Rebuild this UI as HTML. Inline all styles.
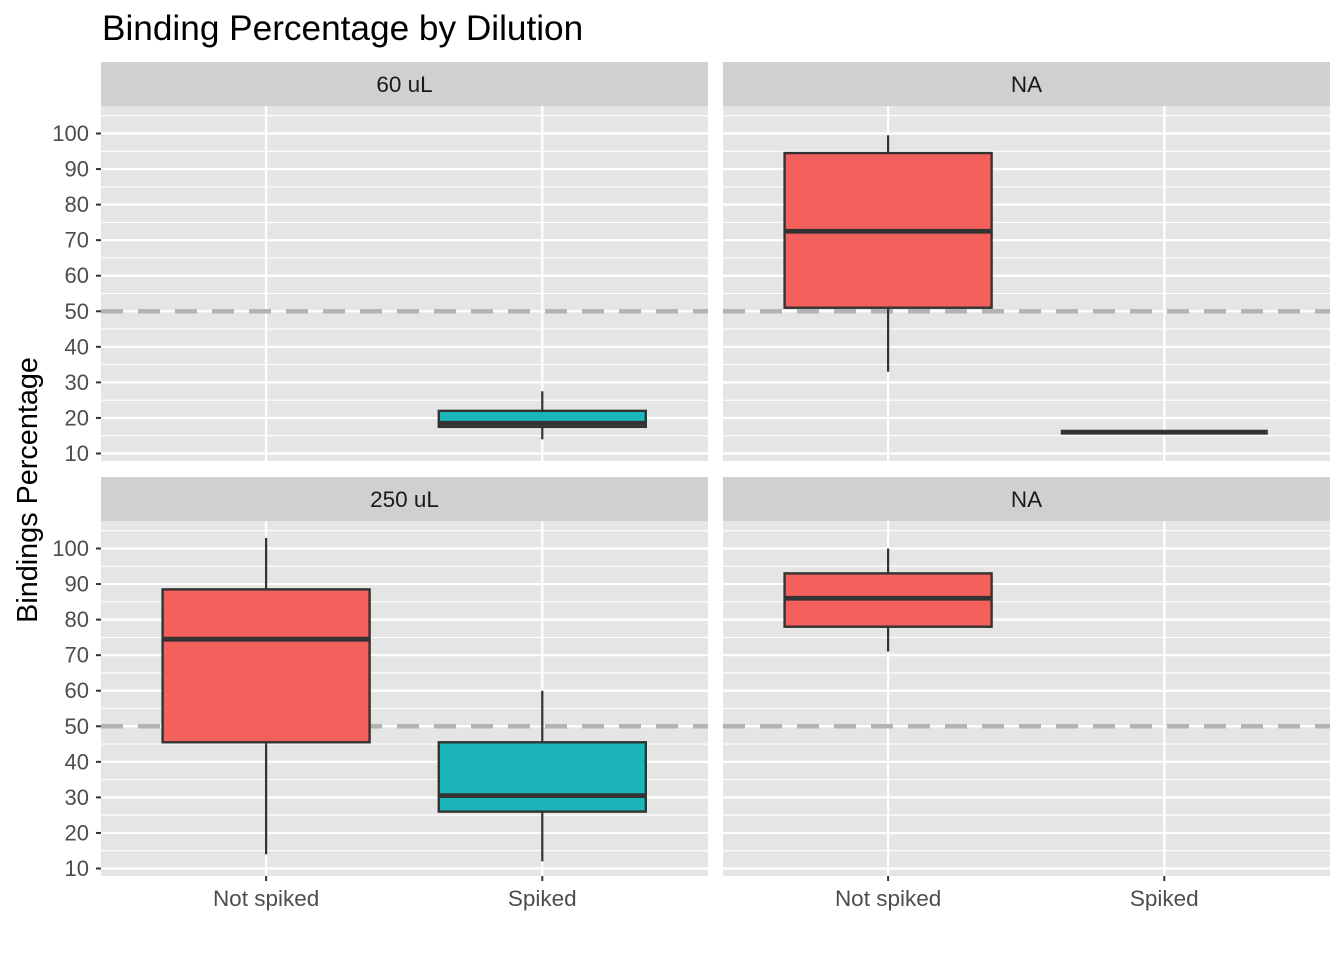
<!DOCTYPE html>
<html><head><meta charset="utf-8"><style>
html,body{margin:0;padding:0;background:#fff}
svg text{font-family:"Liberation Sans",Arial,sans-serif}
</style></head><body>
<svg id="chart" width="1344" height="960" xmlns="http://www.w3.org/2000/svg">
<text x="102" y="40" font-size="35.2" fill="#000">Binding Percentage by Dilution</text>
<text transform="translate(37,490) rotate(-90)" text-anchor="middle" font-size="28.8" fill="#000">Bindings Percentage</text>
<g id="panels"></g>
</svg>
<script>
const panelTitles = ["60 uL","NA","250 uL","NA"];
const categories = ["Not spiked","Spiked"];
const yTicks = [10,20,30,40,50,60,70,80,90,100];
const refLine = 50;
// per panel: [category index, lowWhisker, q1, median, q3, highWhisker]
const boxes60 = [[1,14,17.5,18.5,22,27.5]];
const boxesNAtop = [[0,33,51,72.5,94.5,99.5],[1,16,16,16,16,16]];
const boxes250 = [[0,14,45.5,74.5,88.5,103],[1,12,26,30.5,45.5,60]];
const boxesNAbot = [[0,71,78,86,93,100]];
const panelBoxes = [boxes60, boxesNAtop, boxes250, boxesNAbot];
const fills = ["#F4605C","#1BB5BA"];

const NS="http://www.w3.org/2000/svg";
const root=document.getElementById('panels');
function mk(tag,attrs,parent){const e=document.createElementNS(NS,tag);for(const k in attrs)e.setAttribute(k,attrs[k]);(parent||root).appendChild(e);return e;}
const cols=[[101,708],[723,1330]];
const rows=[[62,106,461],[477,521,876]];
for(let p=0;p<4;p++){
  const c=cols[p%2], r=rows[Math.floor(p/2)];
  const g=mk('g',{});
  
  
  const y=v=>r[1]+27.5+(100-v)*3.5556;
  const xc=i=>c[0]+ (c[1]-c[0])*(i===0?0.272:0.727);
  const strip=mk('rect',{x:c[0],y:r[0],width:c[1]-c[0],height:r[1]-r[0],fill:'#D0D0D0'},g);
  
  
  const st=mk('text',{x:(c[0]+c[1])/2,y:r[0]+30,'text-anchor':'middle','font-size':'22.5',fill:'#1a1a1a'},g);
  st.textContent=panelTitles[p];
  
  
  const bg=mk('rect',{x:c[0],y:r[1],width:c[1]-c[0],height:r[2]-r[1],fill:'#E5E5E5'},g);
  
  
  for(let v=5;v<=105;v+=10){mk('line',{x1:c[0],x2:c[1],y1:y(v),y2:y(v),stroke:'#fff','stroke-width':1.1},g);}
  yTicks.forEach(v=>{mk('line',{x1:c[0],x2:c[1],y1:y(v),y2:y(v),stroke:'#fff','stroke-width':2.2},g);});
  categories.forEach((n,i)=>{mk('line',{x1:xc(i),x2:xc(i),y1:r[1],y2:r[2],stroke:'#fff','stroke-width':2.2},g);});
  const rl=mk('line',{x1:c[0],x2:c[1],y1:y(refLine),y2:y(refLine),stroke:'#B3B3B3','stroke-width':4.5,'stroke-dasharray':'22 15'},g);
  
  
  const hw=103.5;
  panelBoxes[p].forEach(b=>{
    const cx=xc(b[0]);
    const bx=mk('g',{},g);
    
    
    mk('line',{x1:cx,x2:cx,y1:y(b[1]),y2:y(b[5]),stroke:'#333','stroke-width':2.2},bx);
    mk('rect',{x:cx-hw,y:y(b[4]),width:2*hw,height:y(b[2])-y(b[4]),fill:fills[b[0]],stroke:'#333','stroke-width':2.4},bx);
    mk('line',{x1:cx-hw,x2:cx+hw,y1:y(b[3]),y2:y(b[3]),stroke:'#333','stroke-width':4.8},bx);
  });
  if(p%2===0){
    yTicks.forEach(v=>{
      mk('line',{x1:c[0]-5,x2:c[0],y1:y(v),y2:y(v),stroke:'#333','stroke-width':2},g);
      const t=mk('text',{x:c[0]-12,y:y(v)+7.5,'text-anchor':'end','font-size':'22',fill:'#4D4D4D'},g);
      t.textContent=v;
      
      
    });
  }
  if(p>=2){
    categories.forEach((n,i)=>{
      mk('line',{x1:xc(i),x2:xc(i),y1:r[2],y2:r[2]+5,stroke:'#333','stroke-width':2},g);
      const t=mk('text',{x:xc(i),y:r[2]+30,'text-anchor':'middle','font-size':'22.5',fill:'#4D4D4D'},g);
      t.textContent=n;
      
      
    });
  }
}
</script>
</body></html>
